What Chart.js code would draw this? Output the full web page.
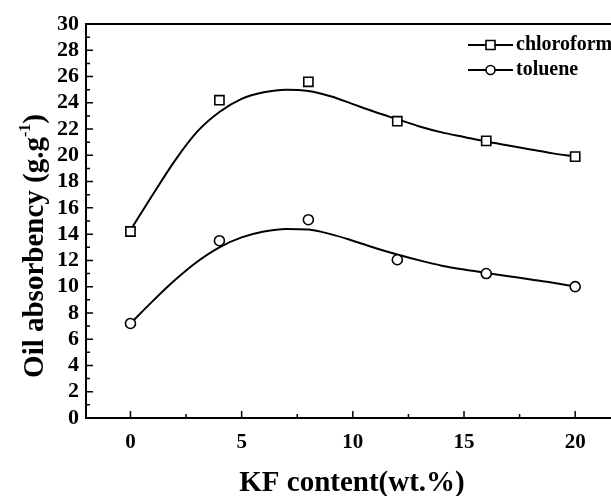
<!DOCTYPE html>
<html>
<head>
<meta charset="utf-8">
<script src="https://cdn.jsdelivr.net/npm/chart.js@4.4.1/dist/chart.umd.min.js"></script>
<style>
  html, body { margin: 0; padding: 0; background: #fff; overflow: hidden; width: 611px; height: 496px; }
  #wrap { position: relative; width: 650px; height: 496px; }
</style>
</head>
<body>
<div id="wrap"><canvas id="chart"></canvas></div>
<script>
// measured samples
const kfContent = [0, 4, 8, 12, 16, 20];
const chloroform = [14.2, 24.2, 25.6, 22.6, 21.1, 19.9];
const toluene = [7.2, 13.5, 15.1, 12.05, 11.0, 10.0];

// fitted curves at each unit of KF content
const fitX = [0, 1, 2, 3, 4, 5, 6, 7, 8, 9, 10, 11, 12, 13, 14, 15, 16, 17, 18, 19, 20];
const chloroformFit = [14.3, 17.0, 19.6, 21.8, 23.3, 24.3, 24.8, 25.0, 24.9, 24.5, 23.9, 23.3, 22.75, 22.2, 21.75, 21.4, 21.05, 20.75, 20.45, 20.15, 19.9];
const tolueneFit = [7.2, 8.9, 10.5, 11.9, 13.0, 13.75, 14.2, 14.4, 14.35, 14.0, 13.5, 12.95, 12.45, 12.0, 11.6, 11.3, 11.05, 10.8, 10.55, 10.3, 10.0];

const xTicks = [0, 5, 10, 15, 20];
const xMinorTicks = [2.5, 7.5, 12.5, 17.5, 22.5];
const yTicks = [0, 2, 4, 6, 8, 10, 12, 14, 16, 18, 20, 22, 24, 26, 28, 30];
const yMinorTicks = [1, 3, 5, 7, 9, 11, 13, 15, 17, 19, 21, 23, 25, 27, 29];

const seriesNames = ['chloroform', 'toluene'];
const seriesMarkers = ['rect', 'circle'];

const FONT = '"Liberation Serif", "Times New Roman", serif';

const toPoints = (xs, ys) => xs.map((x, i) => ({ x, y: ys[i] }));

const markerStyle = (style) => ({
  showLine: false,
  pointStyle: style,
  pointRadius: style === 'rect' ? 6.5 : 5,
  pointBackgroundColor: '#fff',
  pointBorderColor: '#000',
  pointBorderWidth: 1.6,
});

const curveStyle = {
  type: 'line',
  showLine: true,
  borderColor: '#000',
  borderWidth: 2,
  pointRadius: 0,
  cubicInterpolationMode: 'monotone',
  fill: false,
};

const axisDecor = {
  id: 'axisDecor',
  afterDraw(chart) {
    const { ctx, chartArea, scales } = chart;
    const { left, right, top, bottom } = chartArea;
    ctx.save();
    ctx.strokeStyle = '#000';
    ctx.lineWidth = 2;
    // top frame
    ctx.beginPath();
    ctx.moveTo(left, top);
    ctx.lineTo(right, top);
    ctx.stroke();
    // inward ticks
    ctx.lineWidth = 1.5;
    ctx.beginPath();
    yTicks.forEach((v) => {
      const py = scales.y.getPixelForValue(v);
      ctx.moveTo(left, py);
      ctx.lineTo(left + 7, py);
    });
    yMinorTicks.forEach((v) => {
      const py = scales.y.getPixelForValue(v);
      ctx.moveTo(left, py);
      ctx.lineTo(left + 4, py);
    });
    xTicks.forEach((v) => {
      const px = scales.x.getPixelForValue(v);
      ctx.moveTo(px, bottom);
      ctx.lineTo(px, bottom - 7);
    });
    xMinorTicks.forEach((v) => {
      const px = scales.x.getPixelForValue(v);
      ctx.moveTo(px, bottom);
      ctx.lineTo(px, bottom - 4);
    });
    ctx.stroke();

    // axis titles
    ctx.fillStyle = '#000';
    ctx.font = `bold 29px ${FONT}`;
    ctx.textAlign = 'center';
    ctx.textBaseline = 'alphabetic';
    ctx.fillText('KF content(wt.%)', 352, 491);

    ctx.save();
    ctx.translate(43, 246);
    ctx.rotate(-Math.PI / 2);
    const main = 'Oil absorbency (g.g';
    const sup = '-1';
    const tail = ')';
    ctx.font = `bold 29px ${FONT}`;
    const wMain = ctx.measureText(main).width;
    const wTail = ctx.measureText(tail).width;
    ctx.font = `bold 16px ${FONT}`;
    const wSup = ctx.measureText(sup).width;
    const x0 = -(wMain + wSup + wTail) / 2;
    ctx.textAlign = 'left';
    ctx.font = `bold 29px ${FONT}`;
    ctx.fillText(main, x0, 0);
    ctx.font = `bold 16px ${FONT}`;
    ctx.fillText(sup, x0 + wMain, -13);
    ctx.font = `bold 29px ${FONT}`;
    ctx.fillText(tail, x0 + wMain + wSup, 0);
    ctx.restore();

    // legend
    ctx.font = `bold 20px ${FONT}`;
    ctx.textAlign = 'left';
    ctx.textBaseline = 'middle';
    seriesNames.forEach((name, i) => {
      const ly = 45 + i * 25;
      ctx.lineWidth = 2;
      ctx.beginPath();
      ctx.moveTo(468, ly);
      ctx.lineTo(513, ly);
      ctx.stroke();
      ctx.lineWidth = 1.6;
      ctx.fillStyle = '#fff';
      ctx.beginPath();
      if (seriesMarkers[i] === 'rect') {
        ctx.rect(486, ly - 4.5, 9, 9);
      } else {
        ctx.arc(490.5, ly, 4.5, 0, Math.PI * 2);
      }
      ctx.fill();
      ctx.stroke();
      ctx.fillStyle = '#000';
      ctx.fillText(name, 516, ly);
    });
    ctx.restore();
  },
};

new Chart(document.getElementById('chart'), {
  type: 'scatter',
  data: {
    datasets: [
      { label: 'chloroform', data: toPoints(kfContent, chloroform), ...markerStyle('rect') },
      { label: 'toluene', data: toPoints(kfContent, toluene), ...markerStyle('circle') },
      { label: 'chloroform fit', data: toPoints(fitX, chloroformFit), ...curveStyle },
      { label: 'toluene fit', data: toPoints(fitX, tolueneFit), ...curveStyle },
    ],
  },
  options: {
    responsive: true,
    maintainAspectRatio: false,
    animation: false,
    layout: { padding: { left: 0, top: 24, right: 8, bottom: 0 } },
    plugins: {
      legend: { display: false },
      tooltip: { enabled: false },
    },
    scales: {
      x: {
        type: 'linear',
        min: -2,
        max: 23,
        afterBuildTicks: (scale) => { scale.ticks = xTicks.map((value) => ({ value })); },
        afterFit: (scale) => { scale.height = 78; },
        grid: { display: false, drawTicks: false },
        border: { display: true, color: '#000', width: 2 },
        ticks: {
          color: '#000',
          padding: 12,
          autoSkip: false,
          maxRotation: 0,
          font: { family: FONT, size: 21, weight: 'bold' },
        },
      },
      y: {
        type: 'linear',
        min: 0,
        max: 30,
        afterBuildTicks: (scale) => { scale.ticks = yTicks.map((value) => ({ value })); },
        afterFit: (scale) => { scale.width = 86; },
        grid: { display: false, drawTicks: false },
        border: { display: true, color: '#000', width: 2 },
        ticks: {
          color: '#000',
          padding: 7,
          autoSkip: false,
          font: { family: FONT, size: 22, weight: 'bold' },
        },
      },
    },
  },
  plugins: [axisDecor],
});
</script>
</body>
</html>
